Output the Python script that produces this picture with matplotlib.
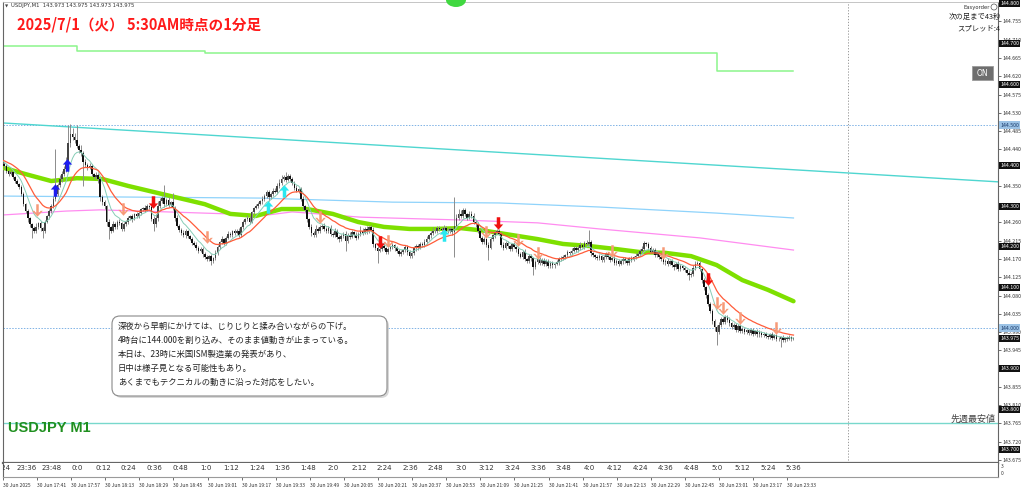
import numpy as np
import pandas as pd
import matplotlib
matplotlib.use("Agg")
import matplotlib.pyplot as plt
from matplotlib import transforms
from matplotlib.patches import FancyBboxPatch, Ellipse
from matplotlib.path import Path

plt.rcParams['font.family'] = ['Noto Sans CJK JP', 'DejaVu Sans']

# ---- data (1 minute bars from 23:24, prices in 0.001 yen above 144.000) ----
close_pts = [
    414, 405, 398, 386, 380, 384, 371, 362, 355, 348,
    330, 305, 288, 270, 255, 246, 238, 250, 258, 247,
    240, 262, 275, 288, 300, 318, 330, 352, 366, 380,
    392, 410, 455, 478, 470, 462, 448, 438, 430, 410,
    402, 395, 398, 380, 372, 378, 366, 322, 310, 300,
    262, 248, 240, 255, 250, 262, 258, 245, 255, 262,
    270, 275, 268, 280, 276, 284, 292, 296, 290, 300,
    298, 268, 255, 270, 300, 312, 320, 305, 316, 302,
    310, 296, 270, 252, 242, 235, 228, 238, 226, 220,
    210, 205, 198, 190, 195, 182, 175, 170, 178, 165,
    172, 185, 200, 212, 218, 210, 222, 232, 228, 238,
    235, 240, 230, 248, 260, 268, 272, 262, 285, 296,
    300, 305, 312, 318, 326, 335, 322, 330, 338, 335,
    350, 358, 366, 372, 365, 374, 368, 358, 345, 338,
    342, 318, 300, 290, 268, 250, 235, 228, 245, 240,
    248, 252, 245, 238, 246, 232, 228, 240, 224, 218,
    226, 232, 214, 230, 225, 236, 230, 222, 232, 240,
    235, 244, 238, 248, 242, 206, 198, 190, 195, 202,
    196, 188, 194, 200, 204, 196, 190, 182, 188, 192,
    200, 186, 178, 184, 196, 202, 198, 208, 204, 212,
    220, 228, 234, 240, 238, 246, 244, 242, 246, 240,
    238, 244, 236, 252, 270, 282, 276, 290, 280, 272,
    282, 276, 262, 255, 238, 222, 212, 218, 205, 198,
    220, 228, 236, 240, 232, 205, 198, 210, 202, 195,
    206, 200, 194, 182, 176, 188, 170, 165, 178, 172,
    150, 162, 170, 160, 168, 158, 166, 152, 160, 154,
    158, 162, 170, 172, 176, 180, 186, 184, 190, 196,
    192, 198, 205, 200, 210, 206, 212, 184, 180, 176,
    172, 178, 168, 174, 182, 176, 168, 172, 160, 166,
    158, 164, 170, 166, 160, 172, 168, 174, 178, 182,
    190, 195, 210, 206, 198, 188, 192, 180, 186, 176,
    170, 162, 166, 158, 164, 156, 150, 158, 146, 152,
    148, 142, 136, 130, 134, 148, 158, 160, 145, 118,
    100, 82, 60, 42, 18, 2, -10, 8, 22, 15,
    28, 20, 12, 2, 8, -4, 4, -8, -2, -10,
    -6, -12, -4, -14, -8, -16, -10, -18, -14, -20,
    -22, -16, -24, -18, -26, -28, -22, -30, -24, -27,
    -22, -28, -25,
]
wick_up = [
    6, 4, 3, 5, 4, 6, 3, 4, 5, 3,
    4, 6, 3, 5, 4, 3, 6, 8, 4, 5,
    3, 5, 4, 6, 5, 8, 110, 6, 10, 6,
    8, 12, 45, 25, 15, 10, 38, 6, 12, 5,
    6, 4, 8, 5, 3, 6, 4, 8, 5, 6,
    4, 6, 3, 8, 5, 4, 6, 3, 5, 4,
    5, 3, 6, 4, 5, 6, 4, 3, 8, 5,
    4, 6, 8, 10, 12, 8, 6, 32, 5, 6,
    4, 23, 5, 8, 3, 4, 6, 5, 4, 3,
    5, 4, 6, 3, 4, 5, 6, 4, 3, 5,
    4, 6, 5, 3, 8, 4, 5, 6, 4, 3,
    5, 4, 6, 3, 5, 4, 6, 5, 4, 3,
    6, 5, 4, 8, 5, 6, 4, 5, 6, 8,
    6, 8, 10, 6, 12, 5, 6, 4, 5, 6,
    4, 5, 6, 3, 5, 4, 6, 5, 8, 4,
    5, 4, 6, 3, 5, 8, 4, 6, 5, 4,
    6, 5, 8, 4, 6, 5, 4, 6, 5, 12,
    6, 5, 8, 4, 5, 6, 4, 5, 4, 6,
    5, 4, 6, 3, 5, 4, 6, 5, 4, 3,
    5, 4, 6, 3, 5, 4, 6, 5, 4, 8,
    6, 4, 5, 8, 4, 6, 5, 4, 8, 5,
    6, 5, 4, 70, 10, 12, 8, 6, 5, 4,
    6, 5, 8, 4, 5, 6, 4, 5, 4, 6,
    5, 4, 6, 3, 5, 4, 6, 5, 4, 3,
    4, 6, 3, 5, 4, 5, 6, 3, 5, 4,
    4, 5, 3, 6, 4, 5, 3, 4, 6, 5,
    3, 5, 4, 6, 4, 3, 5, 4, 6, 5,
    5, 4, 6, 3, 5, 6, 29, 5, 4, 3,
    4, 5, 3, 6, 4, 5, 3, 4, 6, 5,
    3, 5, 4, 6, 4, 3, 5, 4, 6, 5,
    5, 8, 4, 3, 5, 4, 6, 5, 4, 3,
    4, 5, 3, 6, 4, 5, 3, 4, 6, 5,
    3, 5, 4, 6, 4, 8, 6, 5, 4, 3,
    4, 3, 5, 4, 6, 3, 5, 8, 6, 4,
    5, 4, 6, 3, 5, 4, 6, 5, 4, 3,
    4, 3, 5, 4, 3, 5, 4, 3, 5, 4,
    3, 4, 5, 3, 4, 5, 3, 4, 3, 4,
    4, 3, 2,
]
wick_dn = [
    5, 3, 6, 4, 5, 3, 4, 6, 3, 5,
    6, 4, 5, 8, 6, 25, 4, 5, 6, 8,
    18, 5, 4, 6, 5, 4, 6, 5, 4, 6,
    5, 8, 6, 10, 8, 6, 5, 8, 6, 60,
    5, 6, 4, 5, 6, 4, 8, 10, 6, 8,
    10, 30, 6, 4, 5, 6, 4, 5, 6, 4,
    5, 4, 6, 3, 5, 4, 6, 5, 4, 3,
    5, 4, 15, 5, 6, 4, 5, 6, 4, 5,
    4, 5, 6, 4, 6, 5, 4, 6, 5, 4,
    5, 4, 6, 5, 4, 6, 5, 4, 5, 10,
    5, 4, 6, 5, 4, 6, 5, 4, 5, 4,
    5, 4, 6, 5, 4, 3, 5, 6, 4, 5,
    4, 5, 3, 6, 4, 5, 8, 4, 5, 3,
    5, 4, 6, 3, 5, 4, 6, 5, 4, 3,
    5, 4, 6, 5, 8, 6, 8, 5, 4, 6,
    5, 4, 6, 5, 4, 6, 5, 4, 5, 6,
    4, 5, 25, 5, 6, 4, 5, 6, 4, 5,
    5, 4, 6, 5, 4, 6, 5, 30, 4, 5,
    4, 5, 6, 4, 5, 6, 5, 4, 5, 6,
    4, 5, 6, 5, 4, 6, 5, 4, 5, 4,
    5, 4, 6, 5, 4, 5, 6, 4, 5, 4,
    5, 4, 6, 60, 5, 4, 6, 5, 4, 5,
    4, 5, 6, 5, 4, 6, 5, 4, 5, 30,
    4, 5, 6, 5, 4, 6, 5, 4, 5, 6,
    5, 4, 6, 5, 4, 5, 6, 4, 5, 6,
    20, 4, 5, 6, 4, 5, 6, 5, 4, 5,
    5, 4, 6, 5, 4, 5, 6, 4, 5, 4,
    4, 5, 6, 4, 5, 4, 5, 6, 4, 5,
    5, 4, 6, 5, 4, 5, 6, 4, 5, 6,
    5, 4, 6, 5, 4, 5, 6, 4, 5, 4,
    4, 5, 6, 4, 5, 4, 5, 6, 4, 5,
    5, 4, 6, 5, 4, 5, 6, 4, 5, 6,
    5, 4, 6, 12, 4, 5, 6, 4, 5, 6,
    6, 8, 5, 6, 8, 10, 32, 6, 5, 4,
    5, 4, 6, 5, 4, 5, 6, 4, 5, 6,
    4, 5, 6, 5, 4, 5, 6, 4, 5, 4,
    4, 5, 6, 4, 5, 4, 20, 5, 4, 5,
    3, 4, 2,
]

# slow moving average (thick green), read every 12 minutes
ma_slow_m = list(range(0, 373, 12))
ma_slow = [144.397, 144.379, 144.362, 144.369, 144.367, 144.350, 144.335, 144.320,
           144.305, 144.281, 144.276, 144.293, 144.293, 144.281, 144.261, 144.249,
           144.244, 144.244, 144.246, 144.239, 144.229, 144.219, 144.207, 144.202,
           144.195, 144.187, 144.185, 144.177, 144.155, 144.118, 144.094, 144.066]
# higher timeframe averages
sky_m = [0, 122, 184, 234, 281, 336, 372]
sky_p = [144.325, 144.320, 144.310, 144.308, 144.298, 144.283, 144.271]
pink_m = [0, 31, 47, 78, 125, 137, 169, 216, 252, 281, 328, 372]
pink_p = [144.278, 144.288, 144.291, 144.286, 144.278, 144.286, 144.273, 144.266,
          144.259, 144.244, 144.222, 144.192]
top_m = [0, 36, 96, 336, 372]
top_p = [144.695, 144.683, 144.677, 144.633, 144.633]
trend_m = [1.4, 467.9]
trend_p = [144.505, 144.360]

# signal arrows (minute, price)
blue_up = ([26, 31.4], [144.340, 144.401])
cyan_up = ([125.6, 133, 208], [144.298, 144.337, 144.229])
red_dn = ([71.7, 178, 233.5, 332], [144.310, 144.212, 144.259, 144.121])
salmon_dn = ([17.3, 57.7, 97, 150, 182, 228, 243, 252, 287, 311, 336, 339, 347, 364],
             [144.291, 144.293, 144.224, 144.273, 144.214, 144.236, 144.217, 144.185,
              144.190, 144.185, 144.062, 144.049, 144.025, 144.000])

round_levels = [144.8, 144.7, 144.6, 144.5, 144.4, 144.3, 144.2, 144.1, 144.0, 143.9, 143.8, 143.7]
dotted_levels = [144.5, 144.0]
last_week_low = 143.765
current_price = 143.975

text_lines = [
    "深夜から早朝にかけては、じりじりと揉み合いながらの下げ。",
    "4時台に144.000を割り込み、そのまま値動きが止まっている。",
    "本日は、23時に米国ISM製造業の発表があり、",
    "日中は様子見となる可能性もあり。",
    "あくまでもテクニカルの動きに沿った対応をしたい。",
]

# ---- layout ----
W, H = 1024, 490
PXM = 2.133          # pixels per minute bar
fig = plt.figure(figsize=(W / 100, H / 100), dpi=100)
fig.patch.set_facecolor('white')

def fx(xp):
    return xp / W

def fy(yp):
    return 1 - yp / H

ax = fig.add_axes([fx(3), fy(463), (998 - 3) / W, (463 - 2) / H])
ax.set_xlim(3 / PXM, 998 / PXM)
ax.set_ylim(144 - (463 - 328) / 406, 144 + (328 - 2) / 406)
ax.set_facecolor('white')
for s in ['left', 'right']:
    ax.spines[s].set_color('#666666')
    ax.spines[s].set_linewidth(0.8)
ax.spines['top'].set_color('#bbbbbb')
ax.spines['top'].set_linewidth(0.6)
ax.spines['bottom'].set_color('#666666')
ax.spines['bottom'].set_linewidth(1.6)

ax.set_xticks([])
ax.yaxis.tick_right()
yt = np.round(143.675 + 0.045 * np.arange(25), 3)
ax.set_yticks(yt)
box_levels = round_levels + [current_price]
# labels hidden behind a price box are left blank, as on the terminal
ax.set_yticklabels(["" if min(abs(v - b) for b in box_levels) < 0.0075 else f"{v:.3f}"
                    for v in yt])
ax.tick_params(axis='y', labelsize=3.8, length=2, width=0.5, pad=1,
               colors='#333333')

# ---- guide lines ----
for lv in dotted_levels:
    ax.axhline(lv, color='#7fb2e5', lw=0.7, ls=(0, (1.5, 1.5)), zorder=1)
ax.axhline(last_week_low, color='#78d8cc', lw=1.0, zorder=1)
ax.axvline(848 / PXM, color='#8a8a8a', lw=0.6, ls=(0, (1.5, 2)), zorder=1)
ax.plot(trend_m, trend_p, color='#4fd6d0', lw=1.0, zorder=2)
ax.plot(top_m, top_p, color='#8cf58c', lw=1.1, drawstyle='steps-post', zorder=2)
ax.plot(sky_m, sky_p, color='#8fd3fb', lw=0.9, zorder=2)
ax.plot(pink_m, pink_p, color='#ff8cf0', lw=0.9, zorder=2)
ax.plot(ma_slow_m, ma_slow, color='#7ee000', lw=3.2, solid_capstyle='round',
        solid_joinstyle='round', zorder=3)

# ---- candles ----
mins = np.arange(len(close_pts))
c = 144 + np.array(close_pts) / 1000
o = np.r_[c[0], c[:-1]]
hi = np.maximum(o, c) + np.array(wick_up) / 1000
lo = np.minimum(o, c) - np.array(wick_dn) / 1000
ax.vlines(mins, lo, hi, color='#8c8c8c', lw=0.7, zorder=4)
body_h = np.maximum(np.abs(c - o), 0.0012)
ax.bar(mins, body_h, bottom=np.minimum(o, c), width=0.75,
       color=np.where(c >= o, '#444444', '#111111'), zorder=5)

cs = pd.Series(c)
ax.plot(mins, cs.ewm(span=8, adjust=False).mean(), color='#86cdb6', lw=0.7, zorder=6)
ax.plot(mins, cs.ewm(span=20, adjust=False).mean(), color='#ff5c3a', lw=0.9, zorder=6)

# ---- arrows ----
up_arrow = Path([(0, 1), (0.75, 0.15), (0.28, 0.15), (0.28, -1), (-0.28, -1),
                 (-0.28, 0.15), (-0.75, 0.15), (0, 1)], closed=True)
dn_arrow = Path(up_arrow.vertices * [1, -1], closed=True)
soft_dn = Path([(0, -1), (0.85, -0.05), (0.5, -0.05), (0.2, -0.45), (0.2, 1),
                (-0.2, 1), (-0.2, -0.45), (-0.5, -0.05), (-0.85, -0.05), (0, -1)],
               closed=True)
ax.plot(*blue_up, ls='none', marker=up_arrow, ms=9, color='#1d1df0', mec='none', zorder=7)
ax.plot(*cyan_up, ls='none', marker=up_arrow, ms=9, color='#2ae8f0', mec='none', zorder=7)
ax.plot(*red_dn, ls='none', marker=dn_arrow, ms=9, color='#f01010', mec='none', zorder=7)
ax.plot(*salmon_dn, ls='none', marker=soft_dn, ms=9, color='#f79a78', mec='none', zorder=7)

# ---- price boxes on the right axis ----
btr = transforms.blended_transform_factory(ax.transAxes, ax.transData)
for lv in box_levels:
    blue = lv in dotted_levels
    ax.text(1.002, lv, f"{lv:.3f}", transform=btr, ha='left', va='center',
            fontsize=3.8, color='white' if not blue else '#1a3a6a', clip_on=False,
            bbox=dict(boxstyle='square,pad=0.2', fc='#9cc3e6' if blue else '#111111',
                      ec='none'), zorder=10)

# ---- sub window with clock labels ----
ax2 = fig.add_axes([fx(3), fy(477), (998 - 3) / W, 14 / H])
ax2.set_xlim(ax.get_xlim())
ax2.set_ylim(0, 1)
ax2.set_yticks([])
for s in ['left', 'right']:
    ax2.spines[s].set_color('#666666')
    ax2.spines[s].set_linewidth(0.8)
ax2.spines['top'].set_visible(False)
ax2.spines['bottom'].set_color('#9a9a9a')
ax2.spines['bottom'].set_linewidth(0.8)

clock_m = list(range(0, 373, 12))
for m in clock_m:
    tot = (23 * 60 + 24 + m) % (24 * 60)
    ax2.text(m, 0.62, f"{tot // 60}:{tot % 60}", ha='center', va='center',
             fontsize=5, color='#333333', family='DejaVu Sans', clip_on=True)

date_m = [1 + 16 * k for k in range(24)]
date_lbl = ["30 Jun 2025"]
for k in range(1, 24):
    t = 17 * 60 + 25 + 16 * k
    date_lbl.append(f"30 Jun {t // 60}:{t % 60:02d}")
ax2.set_xticks(date_m)
ax2.set_xticklabels(date_lbl)
ax2.tick_params(axis='x', labelsize=3.6, length=2.5, width=0.5, pad=1.5,
                colors='#333333')
for lbl in ax2.get_xticklabels():
    lbl.set_ha('left')
fig.text(fx(1001), fy(466), "3", fontsize=3.5, color='#333333', va='center')
fig.text(fx(1001), fy(473), "0", fontsize=3.5, color='#333333', va='center')

# ---- annotations ----
fig.text(fx(5), fy(6), "▼", fontsize=3, color='#444444', va='center', family='DejaVu Sans')
fig.text(fx(11), fy(6), "USDJPY,M1  143.973 143.975 143.973 143.975", fontsize=3.8,
         color='#333333', va='center', family='DejaVu Sans')
fig.text(fx(17), fy(25), "2025/7/1（火） 5:30AM時点の1分足", fontsize=10.5,
         fontweight='bold', color='#ff1a1a', va='center')
fig.text(fx(8), fy(428), "USDJPY M1", fontsize=10.5, fontweight='bold', color='#1f8f1f',
         va='center', family='Liberation Sans')
fig.text(fx(996), fy(419), "先週最安値", fontsize=6.5, color='#444444', ha='right',
         va='center')

fig.text(fx(990), fy(7), "Easyorder", fontsize=3.8, color='#333333', ha='right',
         va='center', family='DejaVu Sans')
fig.add_artist(Ellipse((fx(994), fy(7)), 6 / W, 6 / H, transform=fig.transFigure,
                       fc='white', ec='#555555', lw=0.5))
fig.text(fx(1001), fy(17), "次の足まで43秒", fontsize=5.3, color='#222222', ha='right',
         va='center')
fig.text(fx(1000), fy(28), "スプレッド:4", fontsize=5.3, color='#222222', ha='right',
         va='center')

fig.add_artist(FancyBboxPatch((fx(972), fy(80)), 21 / W, 14 / H, boxstyle='square,pad=0',
                              transform=fig.transFigure, fc='#6e6e6e', ec='#9a9a9a', lw=0.6))
fig.text(fx(982.5), fy(73), "ON", fontsize=5.5, color='white', ha='center', va='center',
         family='DejaVu Sans')

fig.add_artist(Ellipse((fx(456), 1.0), 20 / W, 14 / H, transform=fig.transFigure,
                       fc='#40d840', ec='none'))

# comment box
shadow = FancyBboxPatch((1.14, (H - 398) / 100), 2.75, 0.80,
                        boxstyle='round,pad=0,rounding_size=0.08',
                        transform=fig.dpi_scale_trans, fc='#c8c8c8', ec='none', alpha=0.7)
box = FancyBboxPatch((1.12, (H - 396) / 100), 2.75, 0.80,
                     boxstyle='round,pad=0,rounding_size=0.08',
                     transform=fig.dpi_scale_trans, fc='white', ec='#8a8a8a', lw=0.8)
fig.add_artist(shadow)
fig.add_artist(box)
for i, line in enumerate(text_lines):
    fig.text(fx(118), fy(326 + 14 * i), line, fontsize=6, color='#222222', va='center')

fig.savefig("out.png", dpi=100, facecolor='white')
